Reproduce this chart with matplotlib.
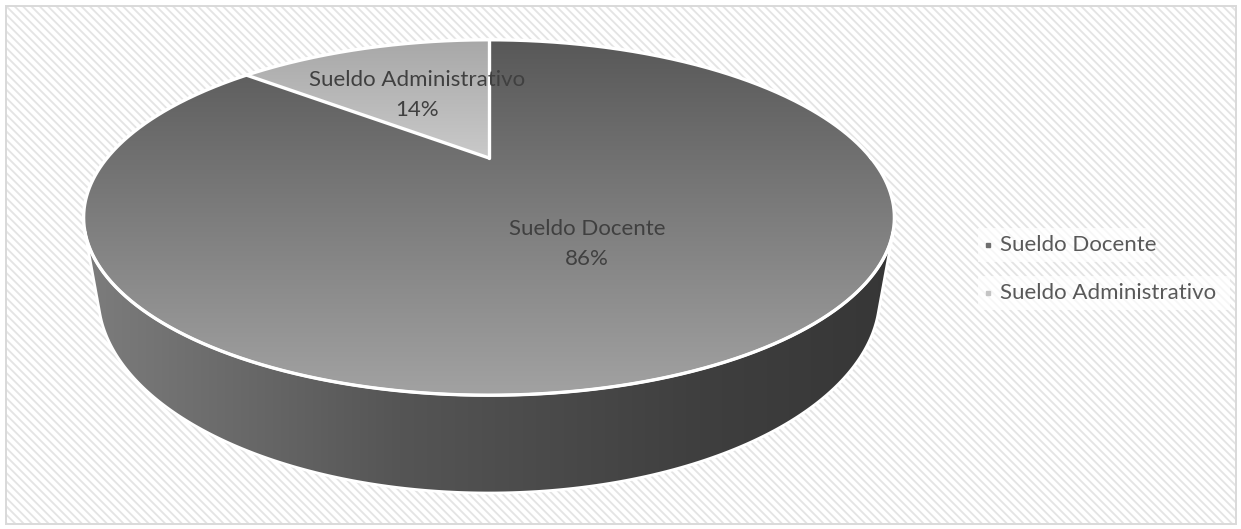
import numpy as np
import matplotlib
matplotlib.use("Agg")
import matplotlib.pyplot as plt
from matplotlib.patches import Polygon, Rectangle

# salary split
labels = ["Sueldo Docente", "Sueldo Administrativo"]
values = [86, 14]
pct_text = ["86%", "14%"]

plt.rcParams['font.family'] = ['Lato', 'DejaVu Sans']
plt.rcParams['hatch.linewidth'] = 1.3

W, H = 1241, 529
fig = plt.figure(figsize=(W / 100, H / 100), dpi=100)
ax = fig.add_axes([0, 0, 1, 1])
ax.set_xlim(0, W)
ax.set_ylim(H, 0)
ax.axis('off')

# background: diagonal pattern inside a light frame
ax.add_patch(Rectangle((6, 6), W - 12, H - 12, facecolor='white',
                       edgecolor='#e4e4e4', lw=0, hatch='\\\\\\\\', zorder=0))
ax.add_patch(Rectangle((5.5, 5.5), W - 11, H - 11, facecolor='none',
                       edgecolor='#d9d9d9', lw=1.4, zorder=1))

# camera for the tilted disc
u0, v0 = 489.0, 158.0      # where the pie centre lands
scale = 382.0
elev = np.radians(24.4)
dist = 2.72
thick = 0.219


def project(t, z=0.0, r=1.0):
    x = r * np.cos(t)
    y = r * np.sin(t)
    depth = dist + y * np.cos(elev) - z * np.sin(elev)
    u = u0 + scale * dist * x / depth
    v = v0 - scale * dist * (y * np.sin(elev) + z * np.cos(elev)) / depth
    return u, v


# slice angles: start at 12 o'clock, go clockwise
fracs = np.array(values, dtype=float) / sum(values)
starts = np.pi / 2 - 2 * np.pi * np.concatenate([[0], np.cumsum(fracs)[:-1]])
ends = starts - 2 * np.pi * fracs

# silhouette of the side wall
tt = np.linspace(-np.pi, np.pi, 4001)
pu, pv = project(tt, 0.0)
qu, qv = project(tt, -thick)
du, dv = np.gradient(pu), np.gradient(pv)
cross = du * (qv - pv) - dv * (qu - pu)
sign_change = np.where(np.diff(np.sign(cross)) != 0)[0]
cands = tt[sign_change]
t_left = cands[np.argmin(np.cos(cands))]
t_right = cands[np.argmax(np.cos(cands))]
if t_left > 0:
    t_left -= 2 * np.pi
if t_right < t_left:
    t_right += 2 * np.pi
ts = np.linspace(t_left, t_right, 600)
if np.sin(ts).mean() > 0:
    ts = np.linspace(t_left, t_right - 2 * np.pi, 600)
top_u, top_v = project(ts, 0.0)
bot_u, bot_v = project(ts, -thick)
side_xy = np.column_stack([np.concatenate([top_u, bot_u[::-1]]),
                           np.concatenate([top_v, bot_v[::-1]])])

gx = np.arange(W) + 0.5
gy = np.arange(H) + 0.5

# side wall: lighter on the left, dark on the right
side_gray = np.interp(gx, [90, 400, 700, 900], [0x7c, 0x55, 0x3f, 0x36]) / 255
side_img = np.repeat(np.tile(side_gray, (H, 1))[:, :, None], 3, axis=2)
side_patch = Polygon(side_xy, closed=True, facecolor='none', edgecolor='none')
ax.add_patch(side_patch)
im = ax.imshow(side_img, extent=(0, W, H, 0), origin='upper', zorder=2,
               interpolation='bilinear', aspect='auto')
im.set_clip_path(side_patch)

# top faces, vertical shading
face_stops = [([40, 395], [0x58, 0xa2]), ([40, 160], [0xa8, 0xca])]
for i, (a0, a1) in enumerate(zip(starts, ends)):
    arc = np.linspace(a0, a1, 400)
    au, av = project(arc, 0.0)
    xy = np.column_stack([np.concatenate([[u0], au]), np.concatenate([[v0], av])])
    patch = Polygon(xy, closed=True, facecolor='none', edgecolor='none')
    ax.add_patch(patch)
    ys, gs = face_stops[i]
    g = np.interp(gy, ys, gs) / 255
    img = np.repeat(np.tile(g[:, None], (1, W))[:, :, None], 3, axis=2)
    im = ax.imshow(img, extent=(0, W, H, 0), origin='upper', zorder=3,
                   interpolation='bilinear', aspect='auto')
    im.set_clip_path(patch)

# white edges
ax.add_patch(Polygon(side_xy, closed=True, facecolor='none', edgecolor='white',
                     lw=2.0, zorder=4, joinstyle='round'))
ring = np.linspace(0, 2 * np.pi, 800)
ru, rv = project(ring, 0.0)
ax.plot(ru, rv, color='white', lw=2.4, zorder=5, solid_joinstyle='round')
for a in starts:
    eu, ev = project(a, 0.0)
    ax.plot([u0, eu], [v0, ev], color='white', lw=2.4, zorder=5,
            solid_capstyle='round')

# data labels at half radius on each slice's mid angle
for i, (a0, a1) in enumerate(zip(starts, ends)):
    lu, lv = project((a0 + a1) / 2, 0.0, r=0.51)
    ax.text(lu, lv, labels[i] + "\n" + pct_text[i], ha='center', va='center',
            fontsize=16, color='#404040', linespacing=1.65, zorder=6)

# legend
marker_cols = ['#6f6f6f', '#c4c4c4']
for i, lab in enumerate(labels):
    yy = 245 + 48 * i
    ax.add_patch(Rectangle((978, yy - 17), 172 + 80 * i, 34, facecolor='white',
                           edgecolor='none', alpha=0.7, zorder=6))
    ax.plot([988], [yy], marker='s', ms=3.5, color=marker_cols[i],
            ls='none', zorder=7)
    ax.text(1000, yy, lab, ha='left', va='center', fontsize=16,
            color='#595959', zorder=7)

fig.savefig("out.png", dpi=100)
